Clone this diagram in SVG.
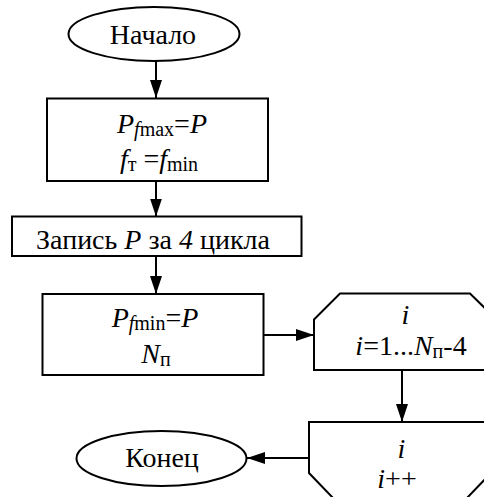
<svg xmlns="http://www.w3.org/2000/svg" width="484" height="497" viewBox="0 0 484 497">
<style>
.s{fill:#fff;stroke:#000;stroke-width:2}
.t{font-family:'Liberation Serif','Times New Roman',serif;font-size:28px;fill:#000;text-anchor:middle}
.i{font-style:italic}
.sub{font-size:20px}
.c{stroke:#000;stroke-width:2;fill:none}
</style>
<defs>
<marker id="a" markerUnits="userSpaceOnUse" markerWidth="20" markerHeight="14" viewBox="0 0 20 14" refX="18" refY="7" orient="auto">
<path d="M0,1 L18,7 L0,13 Z" fill="#000"/>
</marker>
</defs>
<rect width="484" height="497" fill="#fff"/>
<g id="connectors">
<line class="c" x1="156" y1="61" x2="156" y2="98" marker-end="url(#a)"/>
<line class="c" x1="156" y1="181" x2="156" y2="216.5" marker-end="url(#a)"/>
<line class="c" x1="156" y1="256" x2="156" y2="294" marker-end="url(#a)"/>
<line class="c" x1="263" y1="335" x2="314" y2="335" marker-end="url(#a)"/>
<line class="c" x1="402" y1="370" x2="402" y2="422" marker-end="url(#a)"/>
<line class="c" x1="309" y1="458" x2="247" y2="458" marker-end="url(#a)"/>
</g>
<g id="start">
<ellipse class="s" cx="154" cy="34" rx="85.5" ry="27"/>
<text class="t" x="153" y="43.5">Начало</text>
</g>
<g id="init">
<rect class="s" x="47" y="98.5" width="221" height="82.5"/>
<text class="t" x="162" y="133"><tspan class="i">P</tspan><tspan class="sub i" dy="3">f</tspan><tspan class="sub">max</tspan><tspan dy="-3">=</tspan><tspan class="i">P</tspan></text>
<text class="t" x="159" y="168"><tspan class="i">f</tspan><tspan class="sub" dy="3">т</tspan><tspan dy="-3"> =</tspan><tspan class="i">f</tspan><tspan class="sub" dy="3">min</tspan></text>
</g>
<g id="record">
<rect class="s" x="12" y="216.5" width="289.5" height="39.5"/>
<text class="t" x="153" y="248.5">Запись <tspan class="i">P</tspan> за <tspan class="i">4</tspan> цикла</text>
</g>
<g id="fmin">
<rect class="s" x="42.5" y="294" width="221" height="81"/>
<text class="t" x="155" y="327"><tspan class="i">P</tspan><tspan class="sub i" dy="3">f</tspan><tspan class="sub">min</tspan><tspan dy="-3">=</tspan><tspan class="i">P</tspan></text>
<text class="t" x="156" y="362.5"><tspan class="i">N</tspan><tspan class="sub" dy="3">п</tspan></text>
</g>
<g id="loopStart">
<polygon class="s" points="314,319.5 340,293.5 470,293.5 497,320 497,370 314,370"/>
<text class="t i" x="405.5" y="323.5">i</text>
<text class="t" x="411" y="355"><tspan class="i">i</tspan>=1...<tspan class="i">N</tspan><tspan class="sub" dy="3">п</tspan><tspan dy="-3">-4</tspan></text>
</g>
<g id="loopEnd">
<polygon class="s" points="309,422 491,422 491,473 466,499 334,499 309,473"/>
<text class="t i" x="401.5" y="457.5">i</text>
<text class="t" x="397" y="487.5"><tspan class="i">i</tspan>++</text>
</g>
<g id="end">
<ellipse class="s" cx="161.5" cy="458.5" rx="85" ry="27.5"/>
<text class="t" x="162" y="467">Конец</text>
</g>
</svg>
